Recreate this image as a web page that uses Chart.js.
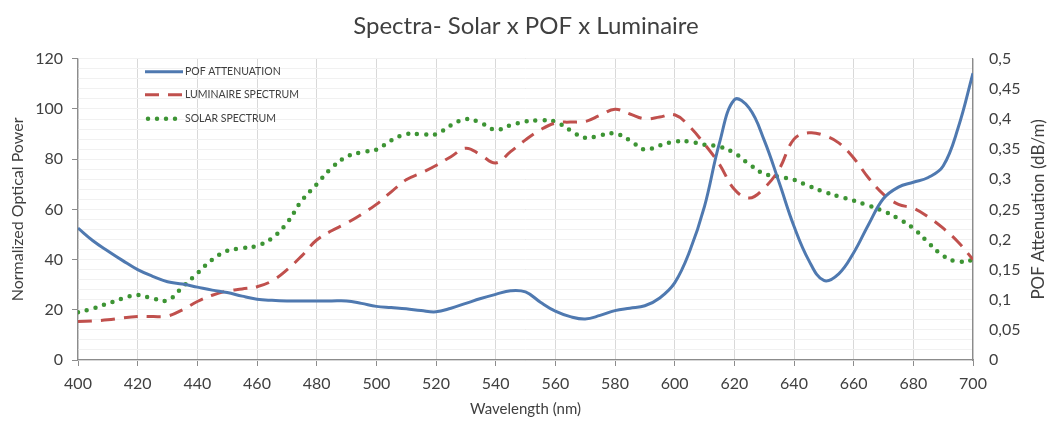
<!DOCTYPE html>
<html>
<head>
<meta charset="utf-8">
<script src="https://cdn.jsdelivr.net/npm/chart.js@4.4.1/dist/chart.umd.min.js"></script>
<style>
    html, body { margin: 0; padding: 0; background: #fff; }
    #wrap { width: 1052px; height: 421px; }
</style>
</head>
<body>
<div id="wrap"><canvas id="spectraChart"></canvas></div>
<script>
// wavelength grid (nm)
const wavelengths = [
    400, 405, 410, 415, 420, 425, 430, 435, 440, 445, 450, 455, 460, 465, 470, 475,
    480, 485, 490, 495, 500, 505, 510, 515, 520, 525, 530, 535, 540, 545, 550, 555,
    560, 565, 570, 575, 580, 585, 590, 595, 600, 605, 610, 615, 620, 625, 630, 635,
    640, 645, 650, 655, 660, 665, 670, 675, 680, 685, 690, 695, 700
];

// POF attenuation, dB/m (right axis)
const pofAttenuation = [
    0.219, 0.198, 0.181, 0.165, 0.150, 0.139, 0.130, 0.126, 0.121, 0.116, 0.112, 0.106, 0.101, 0.099, 0.098, 0.098,
    0.098, 0.098, 0.098, 0.094, 0.089, 0.087, 0.085, 0.082, 0.080, 0.086, 0.094, 0.102, 0.109, 0.115, 0.113, 0.096,
    0.081, 0.072, 0.068, 0.074, 0.082, 0.086, 0.090, 0.103, 0.128, 0.180, 0.255, 0.360, 0.432, 0.418, 0.365, 0.295,
    0.222, 0.165, 0.132, 0.143, 0.178, 0.225, 0.268, 0.287, 0.295, 0.303, 0.322, 0.385, 0.476
];

// luminaire spectrum, normalized (left axis)
const luminaireSpectrum = [
    15.3, 15.6, 16.0, 16.8, 17.3, 17.3, 17.5, 20.0, 23.3, 25.8, 27.5, 28.3, 29.2, 31.5, 35.9, 41.5,
    47.8, 51.5, 54.5, 58.0, 62.0, 67.0, 71.8, 74.5, 77.5, 81.0, 84.4, 81.7, 78.5, 83.0, 87.7, 91.7,
    94.4, 94.8, 95.0, 97.5, 99.9, 98.0, 96.1, 96.8, 97.7, 93.0, 86.0, 78.0, 68.0, 64.5, 68.5, 76.0,
    88.0, 90.5, 89.5, 86.5, 80.5, 72.5, 66.0, 62.0, 60.5, 57.0, 52.5, 47.0, 40.0
];

// solar spectrum, normalized (left axis)
const solarSpectrum = [
    19.0, 20.5, 22.5, 24.5, 25.9, 24.5, 23.8, 29.0, 34.5, 40.0, 43.5, 44.5, 45.5, 48.5, 54.5, 63.5,
    70.0, 76.5, 81.0, 82.8, 83.8, 87.5, 90.0, 90.0, 90.0, 93.5, 96.0, 94.5, 91.7, 93.5, 95.0, 95.5,
    95.0, 91.5, 88.5, 89.5, 90.2, 87.5, 83.8, 85.5, 87.0, 87.0, 85.8, 85.0, 82.5, 78.0, 74.2, 73.0,
    71.8, 69.3, 67.0, 65.2, 63.5, 61.5, 59.3, 56.3, 52.5, 46.8, 41.5, 39.2, 39.8
];

const TEXT = '#404040';
const AXIS = '#8c8c8c';
const FONT = 'Lato, "Open Sans", sans-serif';

const toPoints = vals => vals.map((v, i) => ({ x: wavelengths[i], y: v }));

// legend drawn inside the plot, top-left, plus the rotated right-hand axis title
const insideLegend = {
    id: 'insideLegend',
    afterDraw(chart) {
        const ctx = chart.ctx;
        const area = chart.chartArea;
        const x0 = area.left + 67;
        const rows = [13, 36, 60];
        ctx.save();
        chart.data.datasets.forEach((ds, i) => {
            const y = area.top + rows[i];
            ctx.beginPath();
            ctx.strokeStyle = ds.borderColor;
            ctx.lineWidth = ds.borderWidth;
            ctx.lineCap = ds.borderCapStyle || 'butt';
            ctx.setLineDash(ds.borderDash || []);
            ctx.moveTo(x0 + (ds.borderDash && ds.borderDash[0] === 0 ? 3 : 0), y);
            ctx.lineTo(x0 + 38, y);
            ctx.stroke();
            ctx.setLineDash([]);
            ctx.fillStyle = TEXT;
            ctx.font = '10.5px ' + FONT;
            ctx.textBaseline = 'middle';
            ctx.textAlign = 'left';
            ctx.fillText(ds.label, x0 + 40, y);
        });

        // right axis title, reading bottom to top
        ctx.translate(chart.width - 13, (area.top + area.bottom) / 2);
        ctx.rotate(-Math.PI / 2);
        ctx.fillStyle = TEXT;
        ctx.font = '17px ' + FONT;
        ctx.textAlign = 'center';
        ctx.textBaseline = 'middle';
        ctx.fillText('POF Attenuation (dB/m)', 0, 0);
        ctx.restore();
    }
};

const ctx = document.getElementById('spectraChart').getContext('2d');
new Chart(ctx, {
    type: 'line',
    data: {
        datasets: [{
            label: 'POF ATTENUATION',
            data: toPoints(pofAttenuation),
            yAxisID: 'y1',
            borderColor: '#4f79b0',
            borderWidth: 3,
            tension: 0.4,
            pointRadius: 0
        }, {
            label: 'LUMINAIRE SPECTRUM',
            data: toPoints(luminaireSpectrum),
            yAxisID: 'y',
            borderColor: '#c0504d',
            borderWidth: 3,
            borderDash: [14, 9],
            tension: 0.4,
            pointRadius: 0
        }, {
            label: 'SOLAR SPECTRUM',
            data: toPoints(solarSpectrum),
            yAxisID: 'y',
            borderColor: '#3d9434',
            borderWidth: 4.5,
            borderDash: [0, 9],
            borderCapStyle: 'round',
            tension: 0.4,
            pointRadius: 0
        }]
    },
    options: {
        responsive: true,
        maintainAspectRatio: false,
        animation: false,
        layout: { padding: 0 },
        plugins: {
            legend: { display: false },
            tooltip: { enabled: false },
            title: {
                display: true,
                text: 'Spectra- Solar x POF x Luminaire',
                color: TEXT,
                font: { family: FONT, size: 24, weight: 'normal' },
                padding: { top: 12, bottom: 18 }
            }
        },
        scales: {
            x: {
                type: 'linear',
                min: 400,
                max: 700,
                afterFit: s => { s.height = 61; },
                ticks: { stepSize: 20, color: TEXT, padding: 8, font: { family: FONT, size: 16 } },
                grid: { color: '#d9d9d9', tickColor: AXIS, tickLength: 6 },
                border: { color: AXIS, width: 1.2 },
                title: {
                    display: true,
                    text: 'Wavelength (nm)',
                    color: TEXT,
                    font: { family: FONT, size: 15 },
                    padding: { top: 0, bottom: 3 }
                }
            },
            y: {
                position: 'left',
                min: 0,
                max: 120,
                afterFit: s => { s.width = 78; },
                ticks: { stepSize: 20, color: TEXT, padding: 9, font: { family: FONT, size: 16 } },
                grid: { drawOnChartArea: false, tickColor: AXIS, tickLength: 6 },
                border: { color: AXIS, width: 1.2 },
                title: {
                    display: true,
                    text: 'Normalized Optical Power',
                    color: TEXT,
                    font: { family: FONT, size: 16 },
                    padding: { top: 8, bottom: 0 }
                }
            },
            y1: {
                position: 'right',
                min: 0,
                max: 0.5,
                afterFit: s => { s.width = 79; },
                ticks: {
                    stepSize: 0.05,
                    color: TEXT,
                    padding: 16,
                    font: { family: FONT, size: 16 },
                    callback: v => String(Number(v.toFixed(2))).replace('.', ',')
                },
                grid: { color: '#d9d9d9', drawTicks: false },
                border: { color: AXIS, width: 1.2 }
            },
            // faint minor lines between the major ones
            yMinor: {
                position: 'right',
                min: 0,
                max: 0.5,
                afterFit: s => { s.width = 0; },
                ticks: { display: false, stepSize: 0.05 / 3 },
                grid: { color: '#f1f1f1', drawTicks: false },
                border: { display: false }
            }
        }
    },
    plugins: [insideLegend]
});
</script>
</body>
</html>
